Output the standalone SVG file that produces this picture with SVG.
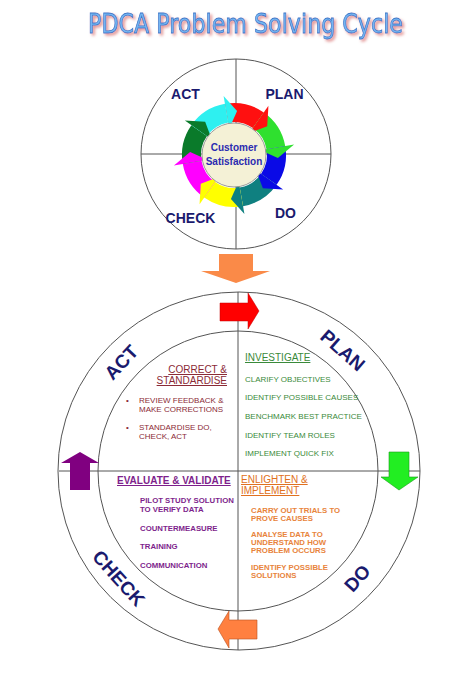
<svg xmlns="http://www.w3.org/2000/svg" width="474" height="684" viewBox="0 0 474 684">
<defs>
<filter id="shadow" x="-10%" y="-40%" width="120%" height="180%">
<feGaussianBlur in="SourceAlpha" stdDeviation="1.4" result="b"/>
<feOffset in="b" dx="1.5" dy="2" result="o"/>
<feFlood flood-color="#e08c8c" result="c"/>
<feComposite in="c" in2="o" operator="in" result="s"/>
<feMerge><feMergeNode in="s"/><feMergeNode in="SourceGraphic"/></feMerge>
</filter>
</defs>
<style>
.ln{stroke:#555;stroke-width:1;fill:none}
.lbl{font-family:"Liberation Sans",Arial,sans-serif;font-weight:bold;fill:#1a1a6e}
.t{font-family:"Liberation Sans",Arial,sans-serif}
.hd{font-size:10px;text-decoration:underline}
.act{fill:#8b2a36}
.plan{fill:#3a8a3a}
.chk{fill:#7e1f8c;font-weight:bold}
.do{fill:#e8843c}
.sm{font-size:8px}
.smb{font-size:7.8px;font-weight:bold}
</style>
<rect width="474" height="684" fill="#fff"/>

<g id="title">
<text x="245.5" y="33" text-anchor="middle" textLength="315" lengthAdjust="spacingAndGlyphs" font-family="DejaVu Sans, sans-serif" font-size="27" fill="#74b6f2" stroke="#3d78c8" stroke-width="0.8" filter="url(#shadow)">PDCA Problem Solving Cycle</text>
</g>

<g id="top-cycle">
<circle cx="236" cy="154" r="95" fill="#fff" class="ln"/>
<line x1="236" y1="59" x2="236" y2="249" class="ln"/>
<line x1="141" y1="154" x2="331" y2="154" class="ln"/>
<g id="ring">
<path fill="#ff1010" d="M224.97,103.79 A52,52 0 0 1 263.83,112.40 L252.93,127.97 A33,33 0 0 0 228.27,122.50 Z"/>
<path fill="#2fe02f" d="M263.83,112.40 A52,52 0 0 1 285.21,145.97 L266.50,149.27 A33,33 0 0 0 252.93,127.97 Z"/>
<path fill="#0a0ae6" d="M285.21,145.97 A52,52 0 0 1 276.60,184.83 L261.03,173.93 A33,33 0 0 0 266.50,149.27 Z"/>
<path fill="#0f8080" d="M276.60,184.83 A52,52 0 0 1 243.03,206.21 L239.73,187.50 A33,33 0 0 0 261.03,173.93 Z"/>
<path fill="#ffff00" d="M243.03,206.21 A52,52 0 0 1 204.17,197.60 L215.07,182.03 A33,33 0 0 0 239.73,187.50 Z"/>
<path fill="#ff00ff" d="M204.17,197.60 A52,52 0 0 1 182.79,164.03 L201.50,160.73 A33,33 0 0 0 215.07,182.03 Z"/>
<path fill="#0a7a2a" d="M182.79,164.03 A52,52 0 0 1 191.40,125.17 L206.97,136.07 A33,33 0 0 0 201.50,160.73 Z"/>
<path fill="#2ef0f0" d="M191.40,125.17 A52,52 0 0 1 224.97,103.79 L228.27,122.50 A33,33 0 0 0 206.97,136.07 Z"/>
<path fill="#ff1010" d="M268.42,105.85 L267.21,126.13 L249.49,132.88 Z"/>
<path fill="#2fe02f" d="M294.09,144.58 L277.89,158.07 L260.59,150.31 Z"/>
<path fill="#0a0ae6" d="M283.15,189.42 L262.87,188.21 L256.12,170.49 Z"/>
<path fill="#0f8080" d="M244.42,214.09 L230.93,198.89 L238.69,181.59 Z"/>
<path fill="#ffff00" d="M199.58,204.15 L200.79,183.87 L218.51,177.12 Z"/>
<path fill="#ff00ff" d="M173.91,165.42 L190.11,151.93 L207.41,159.69 Z"/>
<path fill="#0a7a2a" d="M184.85,120.58 L205.13,121.79 L211.88,139.51 Z"/>
<path fill="#2ef0f0" d="M223.58,95.91 L237.07,111.11 L229.31,128.41 Z"/>
</g>
<g id="customer-satisfaction">
<circle cx="234" cy="155" r="32" fill="#f4f1d6" stroke="#999" stroke-width="1"/>
<text x="234" y="151" text-anchor="middle" class="t" font-size="10" font-weight="bold" fill="#2b2bb0">Customer</text>
<text x="234" y="165" text-anchor="middle" class="t" font-size="10" font-weight="bold" fill="#2b2bb0">Satisfaction</text>
</g>
<text x="185.5" y="99" text-anchor="middle" class="lbl" font-size="14">ACT</text>
<text x="284.5" y="99" text-anchor="middle" class="lbl" font-size="14">PLAN</text>
<text x="190.5" y="223" text-anchor="middle" class="lbl" font-size="14">CHECK</text>
<text x="285.5" y="218" text-anchor="middle" class="lbl" font-size="14">DO</text>
</g>

<g id="wheel">
<ellipse cx="239" cy="471" rx="181" ry="179" class="ln" fill="#fff"/>
<circle cx="238" cy="471" r="140" class="ln"/>
<line x1="238" y1="292" x2="238" y2="650" class="ln"/>
<line x1="59" y1="471" x2="420" y2="471" class="ln"/>
<g class="lbl" font-size="19">
<text transform="translate(121,362) rotate(-47)" y="7" text-anchor="middle">ACT</text>
<text transform="translate(343,350) rotate(41)" y="7" text-anchor="middle">PLAN</text>
<text transform="translate(119,578) rotate(48)" y="7" text-anchor="middle">CHECK</text>
<text transform="translate(357,578) rotate(-48)" y="7" text-anchor="middle">DO</text>
</g>
</g>

<g id="act-quadrant" class="t act">
<text class="hd" x="227" y="373" text-anchor="end">CORRECT &amp;</text>
<text class="hd" x="227" y="384" text-anchor="end">STANDARDISE</text>
<text class="sm" x="126" y="403">•</text>
<text class="sm" x="139" y="403">REVIEW FEEDBACK &amp;</text>
<text class="sm" x="139" y="412">MAKE CORRECTIONS</text>
<text class="sm" x="126" y="430">•</text>
<text class="sm" x="139" y="430">STANDARDISE DO,</text>
<text class="sm" x="139" y="439">CHECK, ACT</text>
</g>

<g id="plan-quadrant" class="t plan">
<text class="hd" x="245" y="361">INVESTIGATE</text>
<text class="sm" x="245" y="382">CLARIFY OBJECTIVES</text>
<text class="sm" x="245" y="400">IDENTIFY POSSIBLE CAUSES</text>
<text class="sm" x="245" y="419">BENCHMARK BEST PRACTICE</text>
<text class="sm" x="245" y="438">IDENTIFY TEAM ROLES</text>
<text class="sm" x="245" y="456">IMPLEMENT QUICK FIX</text>
</g>

<g id="check-quadrant" class="t chk">
<text class="hd" x="117" y="484">EVALUATE &amp; VALIDATE</text>
<text class="smb" x="140" y="503">PILOT STUDY SOLUTION</text>
<text class="smb" x="140" y="512">TO VERIFY DATA</text>
<text class="smb" x="140" y="531">COUNTERMEASURE</text>
<text class="smb" x="140" y="549">TRAINING</text>
<text class="smb" x="140" y="568">COMMUNICATION</text>
</g>

<g id="do-quadrant" class="t do">
<text class="hd" x="241" y="483" fill="#e07020">ENLIGHTEN &amp;</text>
<text class="hd" x="241" y="494" fill="#e07020">IMPLEMENT</text>
<text class="smb" x="251" y="513">CARRY OUT TRIALS TO</text>
<text class="smb" x="251" y="521">PROVE CAUSES</text>
<text class="smb" x="251" y="537">ANALYSE DATA TO</text>
<text class="smb" x="251" y="545">UNDERSTAND HOW</text>
<text class="smb" x="251" y="553">PROBLEM OCCURS</text>
<text class="smb" x="251" y="570">IDENTIFY POSSIBLE</text>
<text class="smb" x="251" y="578">SOLUTIONS</text>
</g>

<g id="connectors">
<polygon fill="#fa8a48" points="219,254 253,254 253,271 270,271 236,283 201,271 219,271"/>
<polygon fill="#ff0000" stroke="#c00000" stroke-width="0.5" points="220,303 248,303 248,293 259,311 248,329 248,321 220,321"/>
<polygon fill="#22ee22" stroke="#1a9a1a" stroke-width="0.6" points="389,452 409,452 409,477 418,477 399,490 381,477 389,477"/>
<polygon fill="#800080" points="80,452 99,463 90,463 90,490 70,490 70,463 61,463"/>
<polygon fill="#ff8040" stroke="#b85020" stroke-width="0.6" points="218,629 229,611 229,620 257,620 257,639 229,639 229,648"/>
</g>
</svg>
